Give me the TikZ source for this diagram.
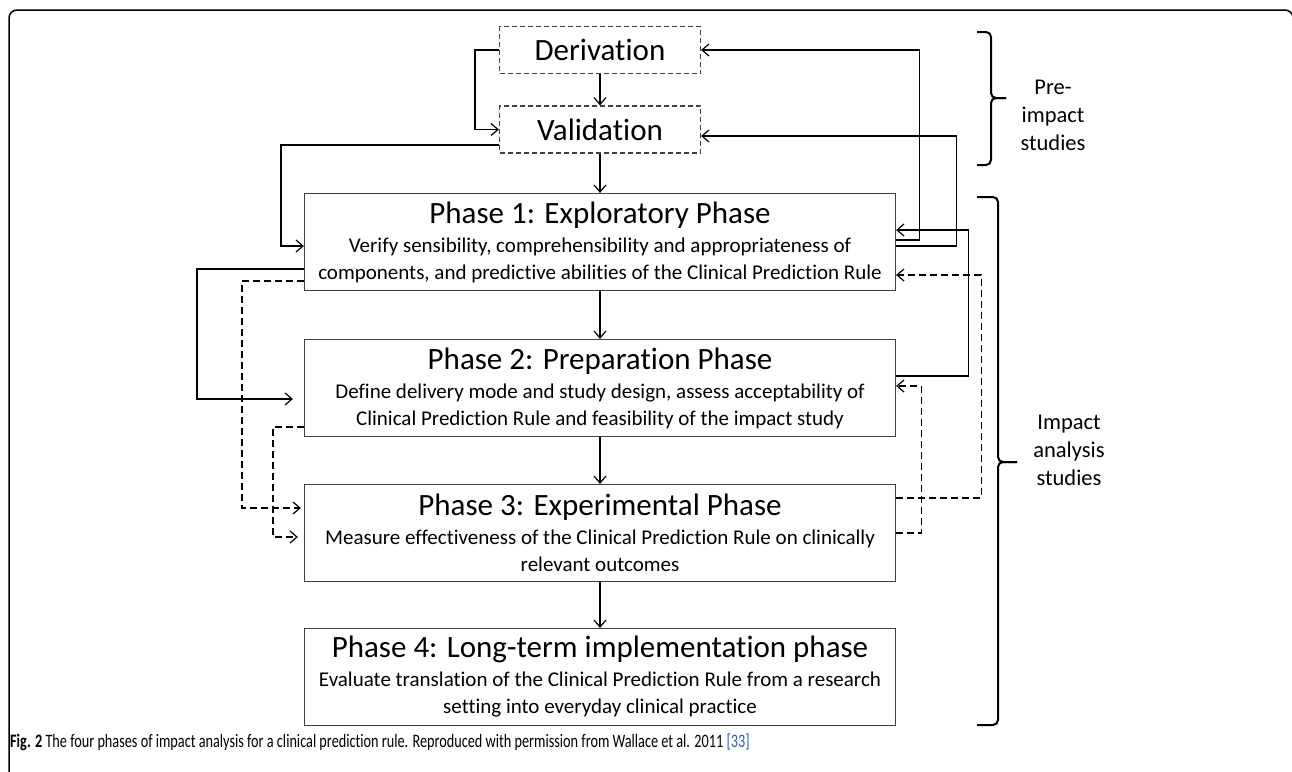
\documentclass[tikz,border=0pt]{standalone}
\usepackage{fontspec}
\setmainfont[Ligatures=NoCommon]{Carlito}
\newfontfamily\capfont[Ligatures=NoCommon, FakeStretch=0.75]{Carlito}
\usetikzlibrary{arrows.meta, positioning}
\definecolor{linkblue}{RGB}{40,90,200}
\tikzset{
  phase/.style={draw=black!75, line width=1.2pt, minimum width=591pt, minimum height=97pt, inner sep=0pt, align=center, font=\fontsize{21}{27}\selectfont},
  prestep/.style={draw=black!75, line width=1.2pt, dash pattern=on 5pt off 3pt, minimum width=201pt, minimum height=47pt, inner sep=0pt, font=\fontsize{31}{31}\selectfont},
  link/.style={line width=1.2pt, -{Straight Barb[length=7pt,width=12pt]}},
  dlink/.style={link, dash pattern=on 7pt off 4pt},
  bracket/.style={line width=2pt, rounded corners=5pt},
  side/.style={align=center, font=\fontsize{22.5}{28}\selectfont}
}
\newcommand{\phasehead}[1]{{\fontsize{31}{31}\selectfont #1}\\[2pt]}

\begin{document}
\begin{tikzpicture}[x=1pt, y=-1pt]
            \useasboundingbox (0,0) rectangle (1292,771);
            \draw[line width=1.5pt, rounded corners=8pt] (9,775) -- (9,10) -- (1293,10) -- (1293,775);

            \node[prestep] (der) at (600,50) {Derivation};
            \node[prestep] (val) at (600,129.5) {Validation};
            \node[phase] (ph1) at (600,242) {\phasehead{Phase 1: Exploratory Phase}Verify sensibility, comprehensibility and appropriateness of\\components, and predictive abilities of the Clinical Prediction Rule};
            \node[phase] (ph2) at (600,388) {\phasehead{Phase 2: Preparation Phase}Define delivery mode and study design, assess acceptability of\\Clinical Prediction Rule and feasibility of the impact study};
            \node[phase] (ph3) at (600,533) {\phasehead{Phase 3: Experimental Phase}Measure effectiveness of the Clinical Prediction Rule on clinically\\relevant outcomes};
            \node[phase] (ph4) at (600,677) {\phasehead{Phase 4: Long-term implementation phase}Evaluate translation of the Clinical Prediction Rule from a research\\setting into everyday clinical practice};

            \draw[link] (der.south) -- (val.north);
            \draw[link] (der.west) -- ++(-24,0) |- (val.west);
            \draw[link] (val.south) -- (ph1.north);
            \draw[link] ([yshift=-15.5pt]val.west) -- ++(-218,0) |- ([yshift=-4pt]ph1.west);
            \draw[link] (ph1.south) -- (ph2.north);
            \draw[link] (ph2.south) -- (ph3.north);
            \draw[link] (ph3.south) -- (ph4.north);

            \draw[link] ([yshift=2pt]ph1.east) -- ++(23,0) |- (der.east);
            \draw[link] ([yshift=-4pt]ph1.east) -- ++(60,0) |- ([yshift=-6.5pt]val.east);
            \draw[link] ([yshift=12pt]ph2.east) -- ++(72,0) |- ([yshift=12pt]ph1.east);
            \draw[dlink] ([yshift=35pt]ph3.east) -- ++(85,0) |- ([yshift=-33pt]ph1.east);
            \draw[dlink] (ph3.east) -- ++(25,0) |- ([yshift=2pt]ph2.east);

            \draw[link, shorten >=11pt] ([yshift=-27pt]ph1.west) -- ++(-107,0) |- ([yshift=-11pt]ph2.west);
            \draw[dlink, shorten >=3pt] ([yshift=-39pt]ph1.west) -- ++(-62,0) |- ([yshift=25pt]ph3.west);
            \draw[dlink, shorten >=6pt] ([yshift=-39pt]ph2.west) -- ++(-31,0) |- ([yshift=-4pt]ph3.west);

            \draw[bracket] (977,32) -- (991,32) -- (991,98) -- (1006,98);
            \draw[bracket] (1006,98) -- (991,98) -- (991,165) -- (977,165);
            \draw[bracket] (977,197) -- (998,197) -- (998,462) -- (1017,462);
            \draw[bracket] (1017,462) -- (998,462) -- (998,725) -- (977,725);
            \node[side] (pre) at (1053,115) {Pre-\\impact\\studies};
            \node[side] (imp) at (1069,450) {Impact\\analysis\\studies};

            \node[anchor=base west, inner sep=0pt, font=\capfont\fontsize{19}{19}\selectfont] (cap) at (10,747) {\textbf{Fig. 2} The four phases of impact analysis for a clinical prediction rule. Reproduced with permission from Wallace et al. 2011 \textcolor{linkblue}{[33]}};
\end{tikzpicture}
\end{document}
